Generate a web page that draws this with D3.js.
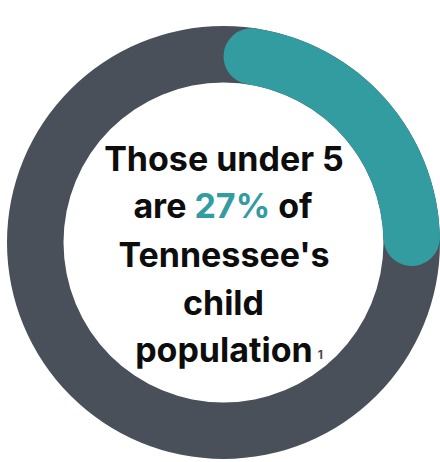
<!DOCTYPE html>
<html>
<head>
<meta charset="utf-8">
<script src="https://cdn.jsdelivr.net/npm/d3@7"></script>
<style>
  html, body { margin: 0; padding: 0; background: #fff; }
  svg { display: block; }
</style>
</head>
<body>
<div id="chart"></div>
<script>
  // DATA
  const shareValue = 0.27;
  const lines = [
    [{ t: "Those under 5" }],
    [{ t: "are " }, { t: "27%", accent: true }, { t: " of" }],
    [{ t: "Tennessee's" }],
    [{ t: "child" }],
    [{ t: "population" }, { t: "1", note: true }],
  ];

  const width = 440,
    height = 462;
  const cx = 223.5,
    cy = 242.5,
    outerR = 216.5,
    innerR = 160;

  const svg = d3
    .select("#chart")
    .append("svg")
    .attr("width", width)
    .attr("height", height);

  const g = svg.append("g").attr("transform", `translate(${cx},${cy})`);

  const arc = d3.arc().innerRadius(innerR).outerRadius(outerR);

  // background ring
  g.append("path")
    .attr("d", arc({ startAngle: 0, endAngle: 2 * Math.PI }))
    .attr("fill", "#4a5059");

  // value arc
  const angle = d3.scaleLinear().domain([0, 1]).range([0, 2 * Math.PI]);
  g.append("path")
    .attr(
      "d",
      arc.cornerRadius((outerR - innerR) / 2)({
        startAngle: angle(0),
        endAngle: angle(shareValue),
      })
    )
    .attr("fill", "#329ca0");

  // LABEL
  const text = svg
    .append("text")
    .attr("text-anchor", "middle")
    .attr("font-family", "Inter, 'DejaVu Sans', sans-serif")
    .attr("font-weight", 700)
    .attr("font-size", 34)
    .attr("fill", "#0d0d0d");

  const baselines = [171, 218, 267, 315, 362];
  const xs = [224, 223, 224, 223.5, 229];

  lines.forEach((parts, i) => {
    const line = text
      .append("tspan")
      .attr("x", xs[i])
      .attr("y", baselines[i]);
    parts.forEach((p) => {
      const s = line
        .append("tspan")
        .attr("fill", p.accent ? "#329ca0" : null)
        .text(p.t);
      if (p.note) {
        s.attr("font-size", 12)
          .attr("fill", "#4a4a4a")
          .attr("dx", 5)
          .attr("dy", -3);
      }
    });
  });
</script>
</body>
</html>
